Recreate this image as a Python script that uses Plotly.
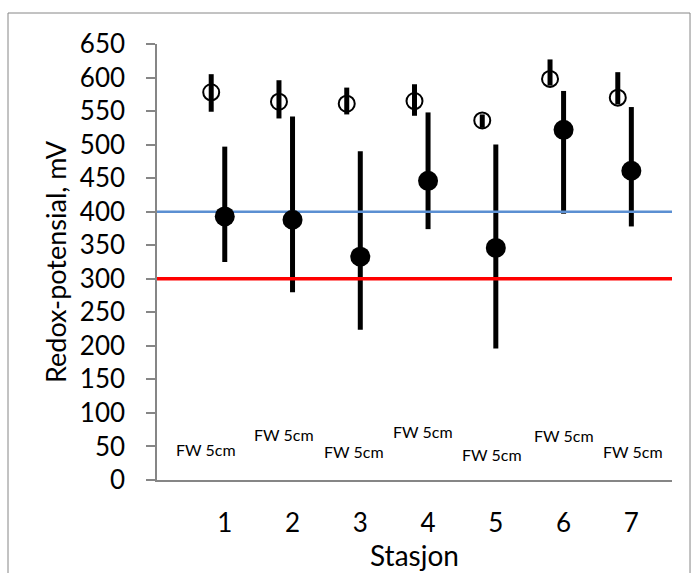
import plotly.graph_objects as go

# Redox potential per station: filled = mean with min/max range, open = FW 5cm
stations = [1, 2, 3, 4, 5, 6, 7]
station_labels = ["1", "2", "3", "4", "5", "6", "7"]

mean_redox = [393, 388, 333, 446, 346, 522, 461]
max_redox = [497, 542, 490, 548, 500, 580, 556]
min_redox = [325, 280, 224, 374, 196, 397, 378]

fw_redox = [578, 564, 561, 565, 536, 598, 570]
fw_max = [605, 596, 585, 590, 545, 627, 608]
fw_min = [549, 539, 545, 543, 525, 588, 560]

fw_label = "FW 5cm"
limit_upper = 400
limit_lower = 300

# label placement for the "FW 5cm" texts (x in station units, y in mV)
fw_label_x = [0.72, 1.87, 2.90, 3.92, 4.95, 6.01, 7.02]
fw_label_y = [45, 68, 42, 72, 38, 66, 42]

FW_SHIFT = -0.2
FONT = "Lato"
GREY = "#868686"

x_fw = [s + FW_SHIFT for s in stations]


def err(center, hi, lo):
    return dict(
        type="data", symmetric=False,
        array=[h - c for h, c in zip(hi, center)],
        arrayminus=[c - l for c, l in zip(center, lo)],
        color="black", thickness=5, width=0,
    )


fig = go.Figure()

# range bars (drawn first so the limit lines sit on top of them)
fig.add_trace(go.Scatter(x=x_fw, y=fw_redox, mode="markers",
                         marker=dict(size=1, color="rgba(0,0,0,0)"),
                         error_y=err(fw_redox, fw_max, fw_min),
                         showlegend=False, hoverinfo="skip"))
fig.add_trace(go.Scatter(x=stations, y=mean_redox, mode="markers",
                         marker=dict(size=1, color="rgba(0,0,0,0)"),
                         error_y=err(mean_redox, max_redox, min_redox),
                         showlegend=False, hoverinfo="skip"))

# limit lines
fig.add_trace(go.Scatter(x=[0, 7.6], y=[limit_upper, limit_upper], mode="lines",
                         line=dict(color="#5B8FD2", width=2.5),
                         showlegend=False, hoverinfo="skip"))
fig.add_trace(go.Scatter(x=[0, 7.6], y=[limit_lower, limit_lower], mode="lines",
                         line=dict(color="#FF0000", width=3.5),
                         showlegend=False, hoverinfo="skip"))

# markers
fig.add_trace(go.Scatter(x=x_fw, y=fw_redox, mode="markers",
                         marker=dict(symbol="circle-open", size=16,
                                     color="black", line=dict(width=2)),
                         showlegend=False))
fig.add_trace(go.Scatter(x=stations, y=mean_redox, mode="markers",
                         marker=dict(symbol="circle", size=20, color="black"),
                         showlegend=False))

for lx, ly in zip(fw_label_x, fw_label_y):
    fig.add_annotation(x=lx, y=ly, text=fw_label, showarrow=False,
                       font=dict(family=FONT, size=16, color="black"),
                       xanchor="center", yanchor="middle")

# outer chart border
fig.add_shape(type="rect", xref="paper", yref="paper",
              x0=-0.2893, x1=1.035, y0=-0.40, y1=1.0711,
              line=dict(color=GREY, width=1), fillcolor="rgba(0,0,0,0)",
              layer="below")

fig.update_layout(
    width=697, height=573,
    margin=dict(l=157, r=25, t=44, b=93),
    paper_bgcolor="white", plot_bgcolor="white",
    font=dict(family=FONT, color="black"),
    xaxis=dict(range=[0, 7.6], tickvals=stations, ticktext=station_labels,
               showline=True, linecolor=GREY, linewidth=1.5,
               showgrid=False, zeroline=False, ticks="", automargin=False,
               tickfont=dict(size=26), ticklabelstandoff=19,
               title=dict(text="Stasjon", font=dict(size=28), standoff=7)),
    yaxis=dict(range=[0, 650], dtick=50, tick0=0,
               showline=True, linecolor=GREY, linewidth=1.5,
               showgrid=False, zeroline=False, automargin=False,
               ticks="outside", ticklen=9, tickcolor=GREY, tickwidth=1.5,
               tickfont=dict(size=26), ticklabelstandoff=16,
               title=dict(text="Redox-potensial, mV", font=dict(size=27), standoff=5)),
)

fig.write_html("out.html")
